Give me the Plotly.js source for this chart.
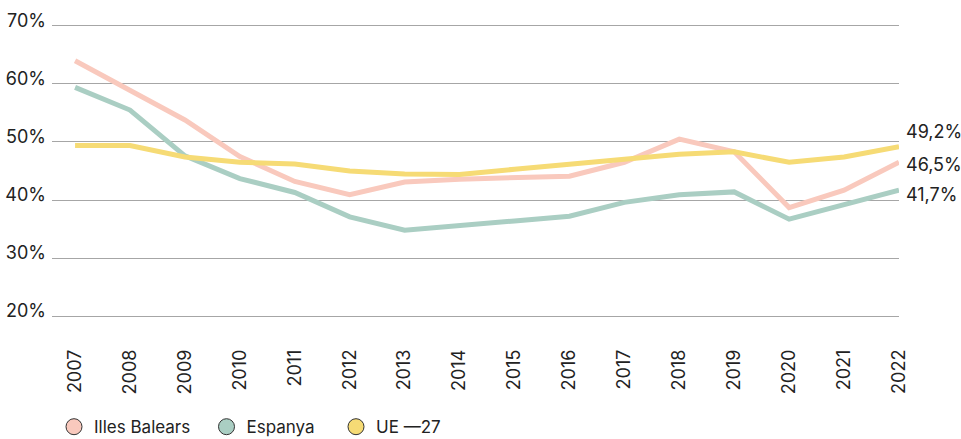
<!DOCTYPE html>
<html>
<head>
<meta charset="utf-8">
<script src="https://cdn.plot.ly/plotly-3.0.1.min.js"></script>
<style>html,body{margin:0;padding:0;background:#fff;}#chart{width:961px;height:439px;}</style>
</head>
<body>
<div id="chart"></div>
<script>
const years = ["2007","2008","2009","2010","2011","2012","2013","2014","2015","2016","2017","2018","2019","2020","2021","2022"];
const illesBalears = [64.0, 58.9, 53.8, 47.5, 43.2, 40.9, 43.1, 43.6, 43.9, 44.1, 46.5, 50.5, 48.3, 38.7, 41.7, 46.5];
const espanya = [59.4, 55.5, 47.6, 43.7, 41.3, 37.1, 34.8, 35.7, 36.4, 37.2, 39.6, 40.9, 41.4, 36.7, 39.3, 41.7];
const ue27 = [49.4, 49.4, 47.4, 46.5, 46.2, 45.0, 44.5, 44.4, 45.3, 46.2, 47.2, 47.9, 48.3, 46.5, 47.4, 49.2];
const seriesNames = ["Illes Balears", "Espanya", "UE —27"];
const endLabels = ["46,5%", "41,7%", "49,2%"];
const yTickVals = [20, 30, 40, 50, 60, 70];
const yTickText = ["20%", "30%", "40%", "50%", "60%", "70%"];

const colors = ["#F9C9BD", "#AACEC3", "#F6DB75"];
const font = "Inter, 'Noto Sans', sans-serif";
const allSeries = [illesBalears, espanya, ue27];

const traces = [];
// draw order: Espanya, Illes Balears, UE-27 on top
[1, 0, 2].forEach(i => {
  traces.push({
    x: years, y: allSeries[i], type: "scatter", mode: "lines",
    line: {color: colors[i], width: 5}, showlegend: false, hoverinfo: "skip"
  });
});
const legendIds = ["legend", "legend2", "legend3"];
seriesNames.forEach((n, i) => {
  traces.push({
    x: [null], y: [null], type: "scatter", mode: "markers", name: n,
    legend: legendIds[i], showlegend: true,
    marker: {color: colors[i], size: 17, line: {color: "#333", width: 1}}
  });
});

const shifts = [-2, -4, 15];
const annotations = allSeries.map((s, i) => ({
  x: 1, xref: "paper", y: s[s.length - 1], yref: "y",
  text: endLabels[i], showarrow: false, xanchor: "left", yanchor: "middle",
  xshift: 5, yshift: shifts[i], font: {family: font, size: 18, color: "#222"}
}));

const legendBase = {
  orientation: "h", xref: "container", yref: "container",
  y: 0.027, xanchor: "left", yanchor: "middle",
  font: {family: font, size: 17, color: "#222"},
  itemsizing: "trace", bgcolor: "rgba(0,0,0,0)"
};
const legendXs = [54, 206.5, 336];

const layout = {
  width: 961, height: 439,
  margin: {l: 52, r: 62, t: 23, b: 120},
  paper_bgcolor: "#fff", plot_bgcolor: "#fff",
  font: {family: font, size: 18, color: "#222"},
  xaxis: {
    type: "category", range: [-0.42, 15], showgrid: false, zeroline: false,
    showline: false, ticks: "", tickangle: -90, ticklabelstandoff: 26,
    tickfont: {family: font, size: 18, color: "#222"}
  },
  yaxis: {
    range: [19.5, 70.5], tickvals: yTickVals, ticktext: yTickText,
    showgrid: true, gridcolor: "#a6a6a6", gridwidth: 1, zeroline: false,
    showline: false, ticks: "", ticklabelshift: -5, ticklabelstandoff: 5,
    tickfont: {family: font, size: 18, color: "#222"}
  },
  showlegend: true,
  legend: Object.assign({}, legendBase, {x: legendXs[0] / 961}),
  legend2: Object.assign({}, legendBase, {x: legendXs[1] / 961}),
  legend3: Object.assign({}, legendBase, {x: legendXs[2] / 961}),
  annotations: annotations
};

Plotly.newPlot("chart", traces, layout, {displayModeBar: false, staticPlot: true});
</script>
</body>
</html>
